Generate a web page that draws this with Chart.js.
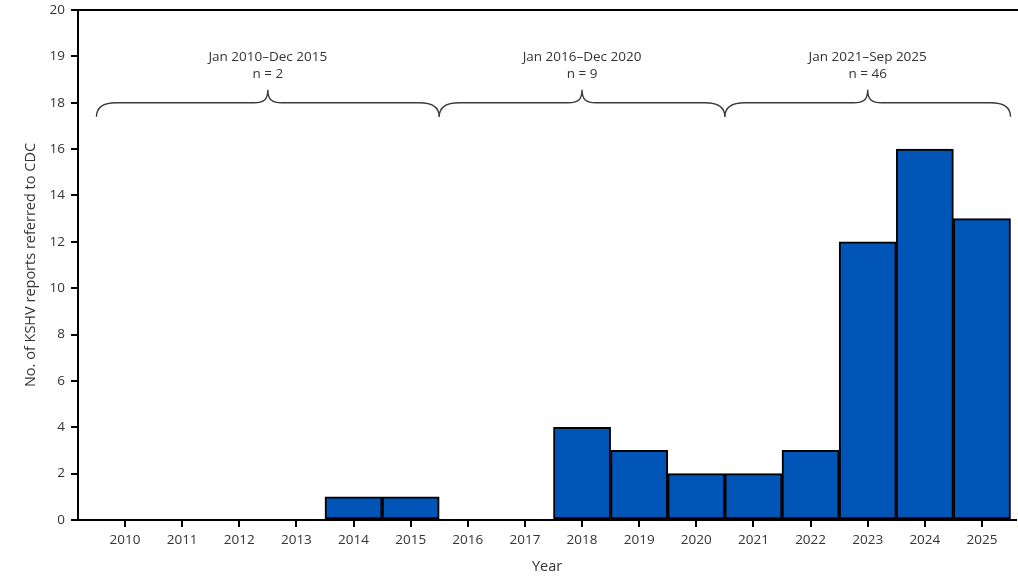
<!DOCTYPE html>
<html>
<head>
<meta charset="utf-8">
<script src="https://cdn.jsdelivr.net/npm/chart.js@4/dist/chart.umd.min.js"></script>
<style>
  html, body { margin: 0; padding: 0; background: #fff; }
  #wrap { width: 1018px; height: 576px; position: relative; }
</style>
</head>
<body>
<div id="wrap"><canvas id="c" width="1018" height="576"></canvas></div>
<script>
// ---- Data ----
const years = [2010, 2011, 2012, 2013, 2014, 2015, 2016, 2017, 2018, 2019, 2020, 2021, 2022, 2023, 2024, 2025];
const reports = [0, 0, 0, 0, 1, 1, 0, 0, 4, 3, 2, 2, 3, 12, 16, 13];

// y-axis tick positions and their printed labels (top of axis is compressed in the original)
const yTickValues = [0, 2, 4, 6, 8, 10, 12, 14, 16, 18, 20, 22];
const yTickLabels = ['0', '2', '4', '6', '8', '10', '12', '14', '16', '18', '19', '20'];

// period annotations (braces)
const periodLabels = ['Jan 2010\u2013Dec 2015', 'Jan 2016\u2013Dec 2020', 'Jan 2021\u2013Sep 2025'];
const periodCounts = [2, 9, 46];
const periodStart = [2010, 2016, 2021];
const periodEnd = [2015, 2020, 2025];
const braceLevel = 18; // y value where the brace's horizontal line sits

const FONT = '"Open Sans", "Noto Sans", sans-serif';
const TEXT = '#333333';

const bracePlugin = {
  id: 'braces',
  afterDraw(chart) {
    const ctx = chart.ctx;
    const xs = chart.scales.x, ys = chart.scales.y;
    const ca = chart.chartArea;
    ctx.save();
    // top frame line
    ctx.strokeStyle = '#000';
    ctx.lineWidth = 2;
    ctx.beginPath();
    ctx.moveTo(ca.left - 1, ys.getPixelForValue(22));
    ctx.lineTo(chart.width, ys.getPixelForValue(22));
    ctx.stroke();

    const yLine = ys.getPixelForValue(braceLevel);
    const yEnd = yLine + 14;
    const yTip = yLine - 13;
    const r = 14;
    ctx.strokeStyle = '#3a3a3a';
    ctx.lineWidth = 1.4;
    for (let i = 0; i < periodLabels.length; i++) {
      const x0 = xs.getPixelForValue(periodStart[i] - 0.5);
      const x1 = xs.getPixelForValue(periodEnd[i] + 0.5);
      const xm = (x0 + x1) / 2;
      ctx.beginPath();
      ctx.moveTo(x0, yEnd);
      ctx.quadraticCurveTo(x0, yLine, x0 + r + 6, yLine);
      ctx.lineTo(xm - 14, yLine);
      ctx.bezierCurveTo(xm - 4, yLine, xm, yLine - 3, xm, yTip);
      ctx.bezierCurveTo(xm, yLine - 3, xm + 4, yLine, xm + 14, yLine);
      ctx.lineTo(x1 - r - 6, yLine);
      ctx.quadraticCurveTo(x1, yLine, x1, yEnd);
      ctx.stroke();

      ctx.fillStyle = TEXT;
      ctx.font = '13.5px ' + FONT;
      ctx.textAlign = 'center';
      ctx.textBaseline = 'middle';
      ctx.fillText(periodLabels[i], xm, yTip - 33);
      ctx.fillText('n = ' + periodCounts[i], xm, yTip - 16);
    }
    ctx.restore();
  }
};

const ctx = document.getElementById('c').getContext('2d');
new Chart(ctx, {
  type: 'bar',
  data: {
    datasets: [{
      data: years.map((y, i) => ({ x: y, y: reports[i] })),
      backgroundColor: '#0055b6',
      borderColor: '#000000',
      borderWidth: 2,
      borderSkipped: false,
      barPercentage: 1.0,
      categoryPercentage: 1.0
    }]
  },
  options: {
    responsive: false,
    animation: false,
    layout: { padding: { top: 10, right: 2, left: 0, bottom: 0 } },
    plugins: { legend: { display: false }, tooltip: { enabled: false } },
    scales: {
      x: {
        type: 'linear',
        offset: false,
        min: 2009.177,
        max: 2025.596,
        afterBuildTicks(scale) { scale.ticks = years.map(v => ({ value: v })); },
        afterFit(scale) { scale.height = 56; scale.paddingLeft = 0; scale.paddingRight = 0; },
        ticks: {
          autoSkip: false,
          maxRotation: 0,
          padding: 5,
          color: TEXT,
          font: { family: FONT, size: 13.5 },
          callback: (v) => String(v)
        },
        grid: {
          display: true,
          offset: false,
          drawOnChartArea: false,
          drawTicks: true,
          tickLength: 7,
          tickColor: '#000',
          tickWidth: 2,
          lineWidth: 2,
          color: '#000'
        },
        border: { display: true, color: '#000', width: 2 },
        title: {
          display: true,
          text: 'Year',
          color: TEXT,
          font: { family: FONT, size: 14.5 },
          padding: { top: 0, bottom: 0 }
        }
      },
      y: {
        type: 'linear',
        min: 0,
        max: 22,
        afterBuildTicks(scale) { scale.ticks = yTickValues.map(v => ({ value: v })); },
        afterFit(scale) { scale.width = 78; scale.paddingTop = 0; scale.paddingBottom = 0; },
        ticks: {
          padding: 6,
          color: TEXT,
          font: { family: FONT, size: 13.5 },
          callback: (v) => {
            const k = yTickValues.indexOf(v);
            return k >= 0 ? yTickLabels[k] : '';
          }
        },
        grid: {
          display: true,
          drawOnChartArea: false,
          drawTicks: true,
          tickLength: 7,
          tickColor: '#000',
          tickWidth: 2,
          lineWidth: 2,
          color: '#000'
        },
        border: { display: true, color: '#000', width: 2 },
        title: {
          display: true,
          text: 'No. of KSHV reports referred to CDC',
          color: TEXT,
          font: { family: FONT, size: 14.5 },
          padding: { top: 22, bottom: 0 }
        }
      }
    }
  },
  plugins: [bracePlugin]
});
</script>
</body>
</html>
